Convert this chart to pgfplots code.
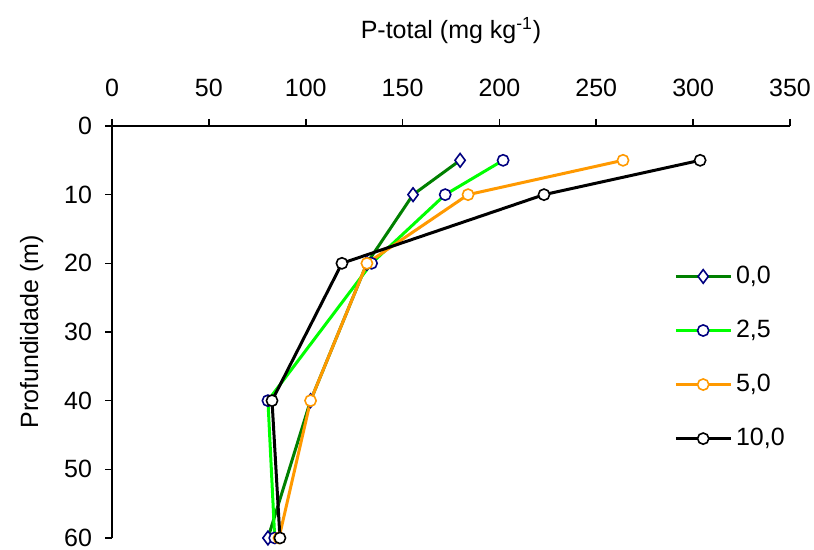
\documentclass[border=0pt]{standalone}
\usepackage{pgfplots}
\pgfplotsset{compat=1.18}
\usepackage{fontspec}
\setmainfont{Liberation Sans}
\definecolor{dgreen}{RGB}{0,128,0}
\definecolor{lgreen}{RGB}{0,255,0}
\definecolor{myorange}{RGB}{255,153,0}
\definecolor{mynavy}{RGB}{0,0,128}
\begin{document}
\begin{tikzpicture}
\begin{axis}[
  scale only axis,
  width=339pt, height=206pt,
  xmin=0, xmax=350, ymin=0, ymax=60,
  y dir=reverse,
  axis x line*=top,
  axis y line*=left,
  axis line style={line width=0.8pt, -},
  xtick={0,50,...,350},
  ytick={0,10,...,60},
  tick align=outside,
  major tick length=3.5pt,
  tick style={line width=0.8pt, black},
  font=\fontsize{12.5}{15}\selectfont,
  /pgf/number format/assume math mode=true,
  xticklabel style={yshift=7.5pt},
  yticklabel style={xshift=-3pt},
  xlabel={P-total (mg kg\textsuperscript{-1})},
  ylabel={Profundidade (m)},
  xlabel style={yshift=11pt},
  ylabel style={yshift=3.5pt},
  clip=false,
  legend style={draw=none, fill=none, at={(rel axis cs:0.820,0.68)}, anchor=north west,
    row sep=12.8pt, font=\fontsize{12.5}{15}\selectfont},
  legend cell align=left,
  legend image code/.code={\draw[#1, mark repeat=2, mark phase=2] plot coordinates {(0cm,0cm) (0.48cm,0cm) (0.96cm,0cm)};},
]
\addplot[dgreen, line width=1.5pt, mark=diamond*, mark size=3.4pt, mark options={draw=mynavy, fill=white, line width=0.8pt}]
  coordinates {(179.7,5) (155.4,10) (131.6,20) (102.5,40) (80.5,60)};
\addlegendentry{0,0}
\addplot[lgreen, line width=1.5pt, mark=*, mark size=2.8pt, mark options={draw=mynavy, fill=white, line width=0.8pt}]
  coordinates {(201.9,5) (172,10) (134,20) (80.5,40) (84,60)};
\addlegendentry{2,5}
\addplot[myorange, line width=1.5pt, mark=*, mark size=2.8pt, mark options={draw=myorange, fill=white, line width=0.8pt}]
  coordinates {(263.8,5) (183.8,10) (131.6,20) (102.5,40) (86.2,60)};
\addlegendentry{5,0}
\addplot[black, line width=1.5pt, mark=*, mark size=2.8pt, mark options={draw=black, fill=white, line width=0.8pt}]
  coordinates {(303.6,5) (223,10) (118.7,20) (82.6,40) (86.7,60)};
\addlegendentry{10,0}
\path (rel axis cs:-0.1652,1.3058) coordinate (tl);
\path (rel axis cs:1.0354,-0.0291) coordinate (br);
\end{axis}
\pgfresetboundingbox
\useasboundingbox (tl) rectangle (br);
\end{tikzpicture}
\end{document}
